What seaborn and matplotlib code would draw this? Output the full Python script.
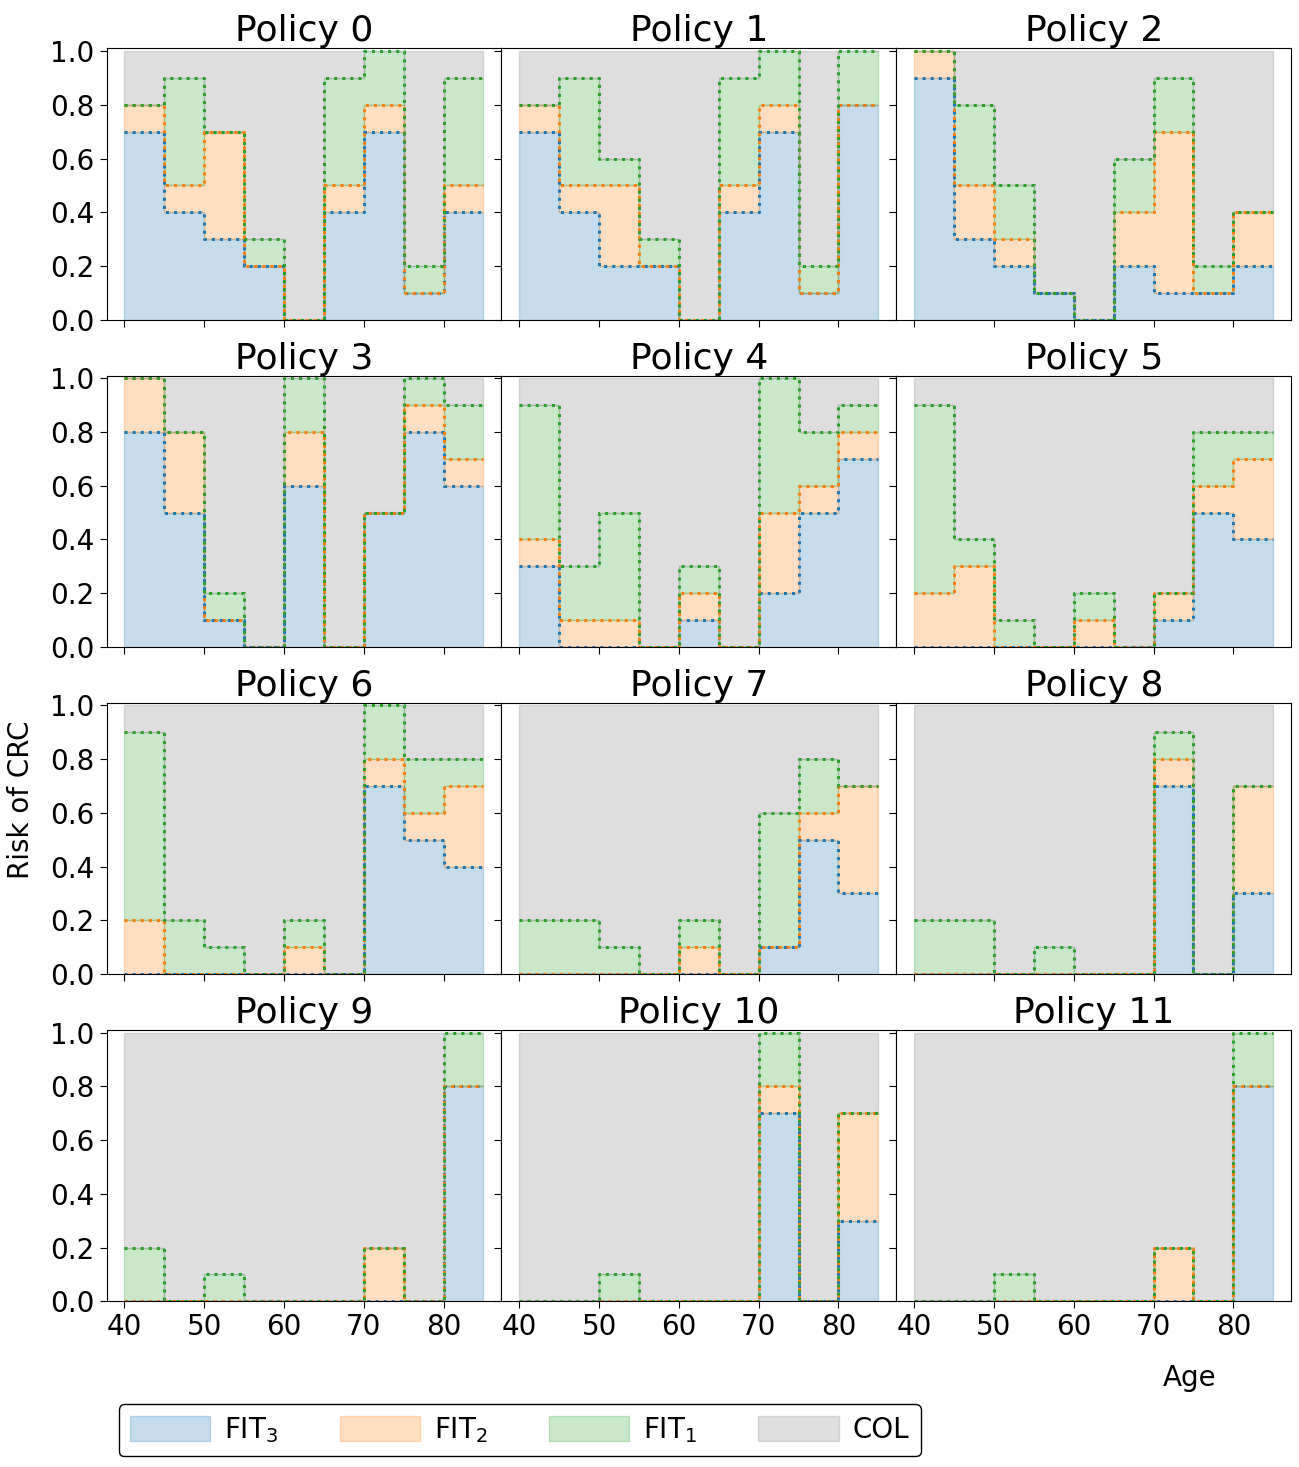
import matplotlib
matplotlib.use("Agg")
import matplotlib.pyplot as plt
import numpy as np
import seaborn as sns

age_bins = [40, 45, 50, 55, 60, 65, 70, 75, 80]
bin_width = 5
policies = [f"Policy {i}" for i in range(12)]

# top of each stacked band per age bin (cumulative)
fit3_top = [
    [0.7, 0.4, 0.3, 0.2, 0.0, 0.4, 0.7, 0.1, 0.4],
    [0.7, 0.4, 0.2, 0.2, 0.0, 0.4, 0.7, 0.1, 0.8],
    [0.9, 0.3, 0.2, 0.1, 0.0, 0.2, 0.1, 0.1, 0.2],
    [0.8, 0.5, 0.1, 0.0, 0.6, 0.0, 0.5, 0.8, 0.6],
    [0.3, 0.0, 0.0, 0.0, 0.1, 0.0, 0.2, 0.5, 0.7],
    [0.0, 0.0, 0.0, 0.0, 0.0, 0.0, 0.1, 0.5, 0.4],
    [0.0, 0.0, 0.0, 0.0, 0.0, 0.0, 0.7, 0.5, 0.4],
    [0.0, 0.0, 0.0, 0.0, 0.0, 0.0, 0.1, 0.5, 0.3],
    [0.0, 0.0, 0.0, 0.0, 0.0, 0.0, 0.7, 0.0, 0.3],
    [0.0, 0.0, 0.0, 0.0, 0.0, 0.0, 0.0, 0.0, 0.8],
    [0.0, 0.0, 0.0, 0.0, 0.0, 0.0, 0.7, 0.0, 0.3],
    [0.0, 0.0, 0.0, 0.0, 0.0, 0.0, 0.0, 0.0, 0.8],
]
fit2_top = [
    [0.8, 0.5, 0.7, 0.2, 0.0, 0.5, 0.8, 0.1, 0.5],
    [0.8, 0.5, 0.5, 0.2, 0.0, 0.5, 0.8, 0.1, 0.8],
    [1.0, 0.5, 0.3, 0.1, 0.0, 0.4, 0.7, 0.1, 0.4],
    [1.0, 0.8, 0.1, 0.0, 0.8, 0.0, 0.5, 0.9, 0.7],
    [0.4, 0.1, 0.1, 0.0, 0.2, 0.0, 0.5, 0.6, 0.8],
    [0.2, 0.3, 0.0, 0.0, 0.1, 0.0, 0.2, 0.6, 0.7],
    [0.2, 0.0, 0.0, 0.0, 0.1, 0.0, 0.8, 0.6, 0.7],
    [0.0, 0.0, 0.0, 0.0, 0.1, 0.0, 0.1, 0.6, 0.7],
    [0.0, 0.0, 0.0, 0.0, 0.0, 0.0, 0.8, 0.0, 0.7],
    [0.0, 0.0, 0.0, 0.0, 0.0, 0.0, 0.2, 0.0, 0.8],
    [0.0, 0.0, 0.0, 0.0, 0.0, 0.0, 0.8, 0.0, 0.7],
    [0.0, 0.0, 0.0, 0.0, 0.0, 0.0, 0.2, 0.0, 0.8],
]
fit1_top = [
    [0.8, 0.9, 0.7, 0.3, 0.0, 0.9, 1.0, 0.2, 0.9],
    [0.8, 0.9, 0.6, 0.3, 0.0, 0.9, 1.0, 0.2, 1.0],
    [1.0, 0.8, 0.5, 0.1, 0.0, 0.6, 0.9, 0.2, 0.4],
    [1.0, 0.8, 0.2, 0.0, 1.0, 0.0, 0.5, 1.0, 0.9],
    [0.9, 0.3, 0.5, 0.0, 0.3, 0.0, 1.0, 0.8, 0.9],
    [0.9, 0.4, 0.1, 0.0, 0.2, 0.0, 0.2, 0.8, 0.8],
    [0.9, 0.2, 0.1, 0.0, 0.2, 0.0, 1.0, 0.8, 0.8],
    [0.2, 0.2, 0.1, 0.0, 0.2, 0.0, 0.6, 0.8, 0.7],
    [0.2, 0.2, 0.0, 0.1, 0.0, 0.0, 0.9, 0.0, 0.7],
    [0.2, 0.0, 0.1, 0.0, 0.0, 0.0, 0.2, 0.0, 1.0],
    [0.0, 0.0, 0.1, 0.0, 0.0, 0.0, 1.0, 0.0, 0.7],
    [0.0, 0.0, 0.1, 0.0, 0.0, 0.0, 0.2, 0.0, 1.0],
]

labels = ["FIT$_3$", "FIT$_2$", "FIT$_1$", "COL"]
colors = ["C0", "C1", "C2", "C7"]

fig, axes = plt.subplots(4, 3, figsize=(12.99, 14.67), dpi=100, sharex=True, sharey=True)
fig.subplots_adjust(left=0.082, right=0.994, top=0.967, bottom=0.113, wspace=0, hspace=0.206)

x = np.append(age_bins, age_bins[-1] + bin_width)

for i, ax in enumerate(axes.flat):
    yb = np.append(fit3_top[i], fit3_top[i][-1])
    yo = np.append(fit2_top[i], fit2_top[i][-1])
    yg = np.append(fit1_top[i], fit1_top[i][-1])
    one = np.ones_like(yb)

    bounds = [(np.zeros_like(yb), yb), (yb, yo), (yo, yg), (yg, one)]
    for (lo, hi), c, lab in zip(bounds, colors, labels):
        ax.fill_between(x, lo, hi, step="post", color=c, alpha=0.25, label=lab)

    for y, c in ((yb, "C0"), (yo, "C1"), (yg, "C2")):
        sns.lineplot(x=x, y=y, drawstyle="steps-post", linestyle=":", color=c,
                     lw=2.2, ax=ax, legend=False)

    ax.set_title(policies[i], fontsize=26, pad=4)
    ax.set_ylim(0, 1.01)
    ax.set_yticks(np.arange(0, 1.01, 0.2))
    ax.set_xticks([40, 50, 60, 70, 80])
    ax.tick_params(labelsize=20, length=5)

fig.text(0.016, 0.455, "Risk of CRC", rotation=90, fontsize=20, ha="center", va="center")
fig.text(0.916, 0.061, "Age", fontsize=20, ha="center", va="center")

handles, labs = axes[0, 0].get_legend_handles_labels()
fig.legend(handles[:4], labs[:4], loc="center", bbox_to_anchor=(0.4, 0.025), ncol=4,
           fontsize=20, edgecolor="black", framealpha=1, handlelength=2.9,
           handleheight=1.0, handletextpad=0.5, columnspacing=2.2)

plt.savefig("out.png", dpi=100)
